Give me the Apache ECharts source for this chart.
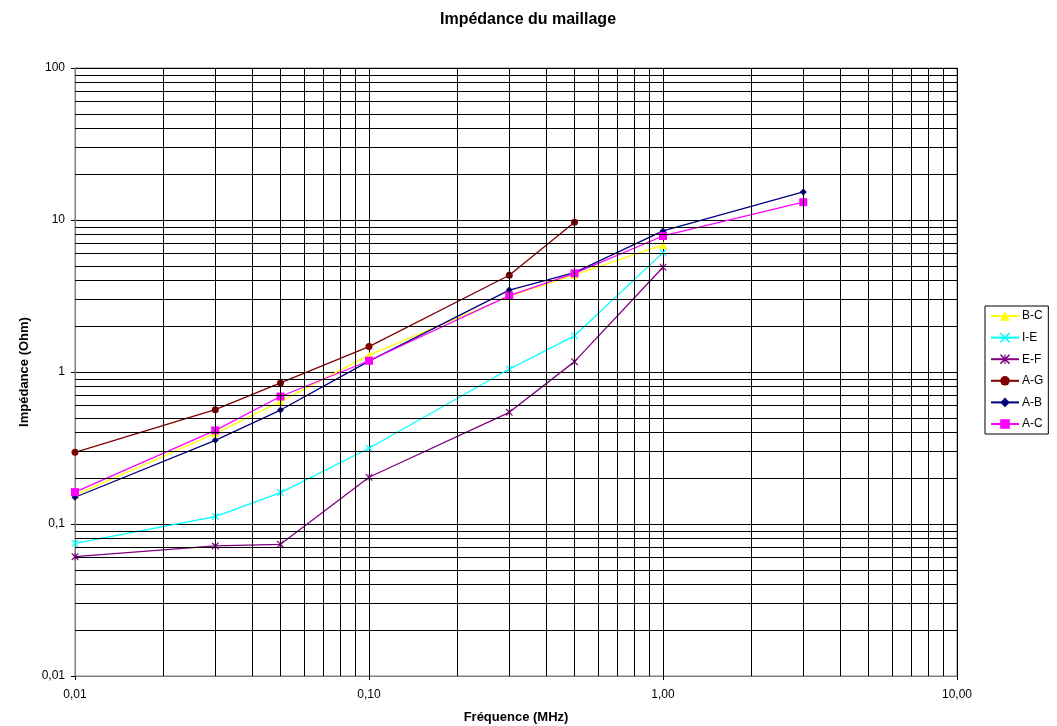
<!DOCTYPE html>
<html>
<head>
<meta charset="utf-8">
<script src="https://cdn.jsdelivr.net/npm/echarts@6/dist/echarts.min.js"></script>
<style>
  html, body { margin: 0; padding: 0; background: #ffffff; }
  #chart { width: 1057px; height: 726px; }
</style>
</head>
<body>
<div id="chart"></div>
<script>
// Measurement frequencies (MHz)
const freqs = [0.01, 0.03, 0.05, 0.1, 0.3, 0.5, 1, 3];

// Mesh impedance (Ohm) for each pair of points
const seriesNames = ['B-C', 'I-E', 'E-F', 'A-G', 'A-B', 'A-C'];
const bc = [0.155, 0.395, 0.638, 1.29, 3.15, 4.35, 6.85];
const ie = [0.0746, 0.112, 0.161, 0.315, 1.047, 1.73, 6.1];
const ef = [0.061, 0.0717, 0.0735, 0.203, 0.543, 1.17, 4.89];
const ag = [0.296, 0.565, 0.848, 1.47, 4.33, 9.66];
const ab = [0.15, 0.355, 0.562, 1.18, 3.46, 4.5, 8.47, 15.3];
const ac = [0.162, 0.413, 0.69, 1.186, 3.18, 4.46, 7.85, 13.1];

// Tick labels (French decimal comma), one per decade
const xTickLabels = ['0,01', '0,10', '1,00', '10,00'];
const yTickLabels = ['0,01', '0,1', '1', '10', '100'];

// Decades that receive intermediate grid lines (2..9 x decade)
const xDecades = [0.01, 0.1, 1];
const yDecades = [0.01, 0.1, 1, 10];
const minorSteps = [2, 3, 4, 5, 6, 7, 8, 9];

const colors = ['#FFFF00', '#00FFFF', '#800080', '#800000', '#000080', '#FF00FF'];
const values = [bc, ie, ef, ag, ab, ac];

// Marker shapes
const crossPath = 'path://M0,0L1.2,0L5,3.8L8.8,0L10,0L10,1.2L6.2,5L10,8.8L10,10L8.8,10L5,6.2L1.2,10L0,10L0,8.8L3.8,5L0,1.2Z';
const starPath = 'path://M0,0L1.2,0L5,3.8L8.8,0L10,0L10,1.2L6.2,5L10,8.8L10,10L8.8,10L5,6.2L1.2,10L0,10L0,8.8L3.8,5L0,1.2Z M4.4,0L5.6,0L5.6,10L4.4,10Z';
const symbols = ['triangle', crossPath, starPath, 'circle', 'diamond', 'rect'];
const symbolSizes = [8, 7, 7, 7, 7, 8];

const FONT = 'Arial, "Liberation Sans", sans-serif';

const minorX = [];
xDecades.forEach(d => minorSteps.forEach(m => minorX.push({ xAxis: +(d * m).toPrecision(6) })));
const minorY = [];
yDecades.forEach(d => minorSteps.forEach(m => minorY.push({ yAxis: +(d * m).toPrecision(6) })));

function decadeIndex(v, base) {
  return Math.round(Math.log10(v / base));
}

const dataSeries = seriesNames.map((name, i) => ({
  name: name,
  type: 'line',
  data: values[i].map((v, k) => [freqs[k], v]),
  symbol: symbols[i],
  symbolSize: symbolSizes[i],
  showSymbol: true,
  color: colors[i],
  lineStyle: { color: colors[i], width: 1.3 },
  itemStyle: { color: colors[i] },
  z: 3,
  animation: false
}));

// Intermediate logarithmic grid lines, placed through the axes
const gridSeries = {
  name: 'grid',
  type: 'line',
  data: [],
  silent: true,
  z: 1,
  animation: false,
  markLine: {
    silent: true,
    animation: false,
    symbol: ['none', 'none'],
    label: { show: false },
    lineStyle: { color: '#000000', width: 1, type: 'solid' },
    emphasis: { disabled: true },
    data: minorX.concat(minorY)
  }
};

const option = {
  backgroundColor: '#ffffff',
  animation: false,
  title: {
    text: 'Impédance du maillage',
    left: 523,
    textAlign: 'center',
    top: 7,
    textStyle: { fontFamily: FONT, fontSize: 16, fontWeight: 'bold', color: '#000000' }
  },
  grid: {
    left: 75, right: 100, top: 68, bottom: 50,
    containLabel: false,
    outerBoundsMode: 'none',
    show: true, borderColor: '#808080', borderWidth: 1, backgroundColor: '#ffffff'
  },
  legend: {
    data: seriesNames,
    orient: 'vertical',
    left: 985,
    top: 306,
    itemWidth: 28,
    itemHeight: 12,
    itemGap: 9.6,
    padding: [4, 5, 4, 5],
    borderColor: '#000000',
    borderWidth: 1,
    backgroundColor: '#ffffff',
    selectedMode: false,
    textStyle: { fontFamily: FONT, fontSize: 12, color: '#000000', padding: [0, 0, 0, -2] }
  },
  xAxis: {
    type: 'log',
    logBase: 10,
    min: 0.01,
    max: 10,
    name: 'Fréquence (MHz)',
    nameLocation: 'middle',
    nameGap: 35,
    nameTextStyle: { fontFamily: FONT, fontSize: 13, fontWeight: 'bold', color: '#000000' },
    axisLine: { show: true, lineStyle: { color: '#808080', width: 1 } },
    axisTick: { show: true, inside: false, length: 4, lineStyle: { color: '#000000' } },
    axisLabel: {
      fontFamily: FONT, fontSize: 12, color: '#000000', margin: 13,
      formatter: v => xTickLabels[decadeIndex(v, 0.01)]
    },
    splitLine: { show: true, lineStyle: { color: '#000000', width: 1 } },
    minorTick: { show: false },
    minorSplitLine: { show: false }
  },
  yAxis: {
    type: 'log',
    logBase: 10,
    min: 0.01,
    max: 100,
    name: 'Impédance (Ohm)',
    nameLocation: 'middle',
    nameGap: 39,
    nameRotate: 90,
    nameTextStyle: { fontFamily: FONT, fontSize: 13, fontWeight: 'bold', color: '#000000' },
    axisLine: { show: true, lineStyle: { color: '#808080', width: 1 } },
    axisTick: { show: true, inside: false, length: 4, lineStyle: { color: '#000000' } },
    axisLabel: {
      fontFamily: FONT, fontSize: 12, color: '#000000', margin: 10,
      formatter: v => yTickLabels[decadeIndex(v, 0.01)]
    },
    splitLine: { show: true, lineStyle: { color: '#000000', width: 1 } },
    minorTick: { show: false },
    minorSplitLine: { show: false }
  },
  series: [gridSeries].concat(dataSeries)
};

const chart = echarts.init(document.getElementById('chart'), null, { renderer: 'canvas' });
chart.setOption(option);
</script>
</body>
</html>
